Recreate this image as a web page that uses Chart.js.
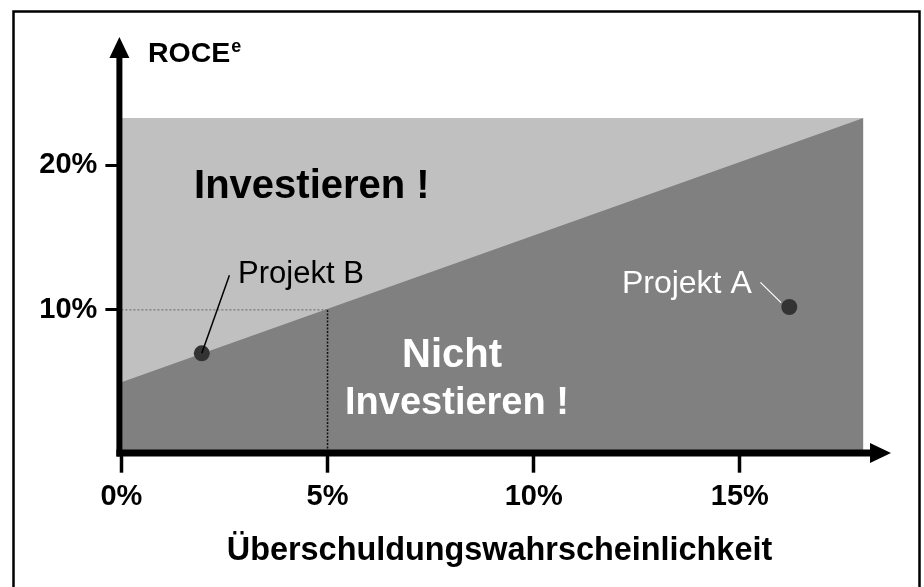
<!DOCTYPE html>
<html>
<head>
<meta charset="utf-8">
<script src="https://cdn.jsdelivr.net/npm/chart.js@4.4.0/dist/chart.umd.min.js"></script>
<style>
    html, body { margin: 0; padding: 0; background: #fff; overflow: hidden; }
</style>
</head>
<body>
<canvas id="chart" width="924" height="587"></canvas>
<script>
// values (percent)
const xTicks = [0, 5, 10, 15];
const yTicks = [10, 20];
const xMax = 18;
const yMax = 23.25;
const investArea = [{ x: 0, y: 23.25 }, { x: 18, y: 23.25 }];
const boundary = [{ x: 0, y: 5 }, { x: 18, y: 23.25 }];
const guideH = [{ x: 0, y: 10 }, { x: 5, y: 10 }];
const guideV = [{ x: 5, y: 10 }, { x: 5, y: 0 }];
const projects = [{ x: 1.95, y: 7 }, { x: 16.2, y: 10.2 }];
const leaderB = [{ x: 1.95, y: 7 }, { x: 2.62, y: 12.4 }];
const leaderA = [{ x: 15.5, y: 11.9 }, { x: 16.0, y: 10.5 }];

const FONT = "'Liberation Sans', Arial, sans-serif";

// axes with arrows, frame and the text labels
const decorPlugin = {
    id: 'decor',
    afterDatasetsDraw(chart) {
        const ctx = chart.ctx;
        const area = chart.chartArea;
        const x = chart.scales.x;
        const y = chart.scales.y;
        const ax = area.left - 2;      // y axis centre
        const ay = area.bottom - 1.7;  // x axis centre

        ctx.save();
        ctx.fillStyle = '#000';
        ctx.strokeStyle = '#000';

        // y axis + arrow
        ctx.fillRect(ax - 3, 57, 6, ay + 3.5 - 57);
        ctx.beginPath();
        ctx.moveTo(ax - 10, 58);
        ctx.lineTo(ax + 10, 58);
        ctx.lineTo(ax, 37);
        ctx.closePath();
        ctx.fill();

        // x axis + arrow
        ctx.fillRect(ax - 3, ay - 3.5, 871 - (ax - 3), 7);
        ctx.beginPath();
        ctx.moveTo(870, ay - 10);
        ctx.lineTo(870, ay + 10);
        ctx.lineTo(891, ay);
        ctx.closePath();
        ctx.fill();

        // frame
        ctx.lineWidth = 2.5;
        ctx.strokeRect(13.5, 11.5, 906, 620);

        ctx.textBaseline = 'alphabetic';

        // ROCE^e
        ctx.textAlign = 'left';
        ctx.font = 'bold 28.5px ' + FONT;
        ctx.fillText('ROCE', ax + 28.5, 61.7);
        const w = ctx.measureText('ROCE').width;
        ctx.font = 'bold 18px ' + FONT;
        ctx.fillText('e', ax + 29.5 + w, 52);

        // axis title
        ctx.textAlign = 'center';
        ctx.font = 'bold 32.4px ' + FONT;
        ctx.fillText('Überschuldungswahrscheinlichkeit', 499.5, 559.5);

        // region labels
        ctx.font = 'bold 40px ' + FONT;
        ctx.fillText('Investieren !', x.getPixelForValue(4.62), y.getPixelForValue(17.74));
        ctx.fillStyle = '#fff';
        ctx.fillText('Nicht', x.getPixelForValue(8.02), y.getPixelForValue(6.06));
        ctx.font = 'bold 38px ' + FONT;
        ctx.fillText('Investieren !', x.getPixelForValue(8.14), y.getPixelForValue(2.81));

        // project labels
        ctx.textAlign = 'left';
        ctx.font = '32px ' + FONT;
        ctx.fillText('Projekt A', x.getPixelForValue(12.14), y.getPixelForValue(11.15));
        ctx.fillStyle = '#000';
        ctx.font = '31px ' + FONT;
        ctx.fillText('Projekt B', x.getPixelForValue(2.83), y.getPixelForValue(11.89));

        ctx.restore();
    }
};

const lineStyle = { pointRadius: 0, pointHoverRadius: 0, tension: 0, fill: false };

new Chart(document.getElementById('chart'), {
    type: 'line',
    data: {
        datasets: [
            { ...lineStyle, data: leaderB, borderColor: '#000', borderWidth: 1.5, order: 0 },
            { ...lineStyle, data: leaderA, borderColor: '#fff', borderWidth: 1.2, order: 0 },
            {
                data: projects, showLine: false, pointRadius: 8, pointHoverRadius: 8,
                pointBackgroundColor: '#333', pointBorderWidth: 0, order: 1
            },
            { ...lineStyle, data: guideH, borderColor: '#666', borderWidth: 1, borderDash: [2, 2], order: 2 },
            { ...lineStyle, data: guideV, borderColor: '#111', borderWidth: 1.5, borderDash: [2, 1.5], order: 2 },
            { ...lineStyle, data: boundary, fill: 'origin', backgroundColor: '#808080', borderWidth: 0, order: 3 },
            { ...lineStyle, data: investArea, fill: 'origin', backgroundColor: '#c0c0c0', borderWidth: 0, order: 4 }
        ]
    },
    options: {
        responsive: false,
        animation: false,
        devicePixelRatio: 1,
        layout: { padding: { left: 0, top: 118, right: 60.5, bottom: 0 } },
        plugins: {
            legend: { display: false },
            tooltip: { enabled: false }
        },
        scales: {
            x: {
                type: 'linear',
                min: 0,
                max: xMax,
                afterBuildTicks: axis => { axis.ticks = xTicks.map(v => ({ value: v })); },
                afterFit: scale => { scale.height = 587 - 454.7; },
                border: { display: false },
                grid: { drawOnChartArea: false, drawTicks: true, tickLength: 18, tickWidth: 3.5, tickColor: '#000' },
                ticks: {
                    padding: 6.5,
                    color: '#000',
                    font: { family: FONT, size: 29, weight: 'bold' },
                    maxRotation: 0,
                    callback: v => v + '%'
                }
            },
            y: {
                type: 'linear',
                min: 0,
                max: yMax,
                afterBuildTicks: axis => { axis.ticks = yTicks.map(v => ({ value: v })); },
                afterFit: scale => { scale.width = 121.4; },
                border: { display: false },
                grid: { drawOnChartArea: false, drawTicks: true, tickLength: 16, tickWidth: 3, tickColor: '#000' },
                ticks: {
                    padding: 8,
                    color: '#000',
                    font: { family: FONT, size: 29, weight: 'bold' },
                    callback: v => v + '%'
                }
            }
        }
    },
    plugins: [decorPlugin]
});
</script>
</body>
</html>
